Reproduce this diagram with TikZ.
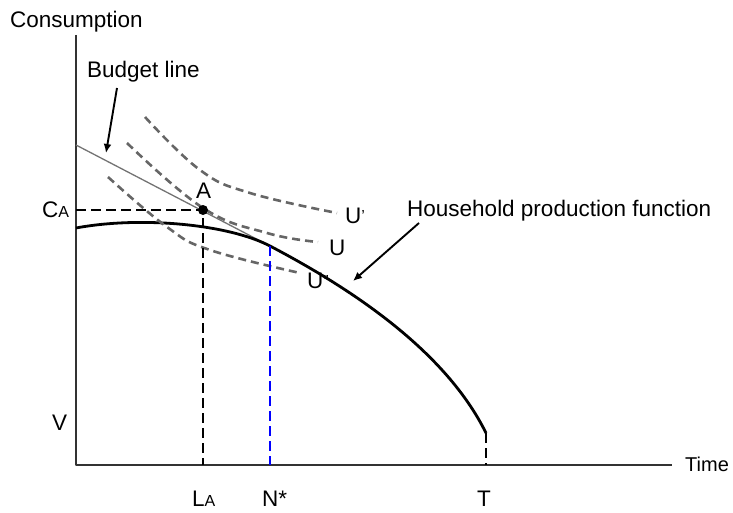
\documentclass[tikz,border=0pt]{standalone}
\usepackage{fontspec}
\setmainfont{Liberation Sans}
\usetikzlibrary{arrows.meta}
\newcommand{\nhochu}[1]{{\fontsize{16}{17}\selectfont #1}}
\begin{document}
\begin{tikzpicture}[
			% styles
			truc/.style={line width=1.3pt, draw=black!80}, % axes
			chiaso/.style={line width=1.1pt, dash pattern=on 10pt off 5pt}, % guide lines
			bangquan/.style={line width=2.6pt, draw=black!60, dash pattern=on 8pt off 5pt}, % utility curves
			diem/.style={circle, fill=black, inner sep=0pt, minimum size=10pt}, % point A
			nhan/.style={font=\fontsize{22.5}{26}\selectfont, inner sep=0pt, anchor=base west}, % labels
			muiten/.style={-{Latex[length=9pt,width=8pt]}, line width=1.9pt}, % pointers
			x=1pt, y=-1pt, line join=round]
			\useasboundingbox (0,0) rectangle (733,513);

			% points of the figure
			\coordinate (O) at (76,465);     % origin
			\coordinate (Ytop) at (76,35);   % top of consumption axis
			\coordinate (Xend) at (672,465); % end of time axis
			\coordinate (B0) at (76,145);    % budget line start
			\coordinate (N) at (270,246);    % tangency point
			\coordinate (P0) at (76,228);    % production start
			\coordinate (PT) at (486,433);   % production end
			\coordinate (CAx) at (76,210);
			\coordinate (LAx) at (203,465);
			\coordinate (Nx) at (270,465);
			\coordinate (Tx) at (486,465);

			% axes
			\draw[truc] (Ytop) -- (O) -- (Xend);

			% budget line
			\draw[line width=1.3pt, black!55] (B0) -- (N);

			% household production function
			\draw[line width=2.8pt] (P0) .. controls (140,216) and (228,224) .. (N)
				.. controls (350,288) and (445,350) .. (PT);

			% utility curves
			\draw[bangquan] plot[smooth, tension=0.7] coordinates {(145,117) (200,170) (250,193) (337,213)};
			\draw[bangquan] plot[smooth, tension=0.7] coordinates {(127,143) (203,208) (267,233) (318,242)};
			\draw[bangquan] plot[smooth, tension=0.7] coordinates {(108,177) (167,227) (210,250) (300,273)};

			% point A and guide lines
			\node[diem] (A) at (203,210) {};
			\draw[chiaso] (CAx) -- (A.center) -- (LAx);
			\draw[chiaso, blue] (N) -- (Nx);
			\draw[chiaso] (PT) -- (Tx);

			% pointers
			\coordinate (bl1) at (117,88);
			\coordinate (bl2) at (106,153);
			\coordinate (hp1) at (419,223);
			\coordinate (hp2) at (353,281);
			\draw[muiten] (bl1) -- (bl2);
			\draw[muiten] (hp1) -- (hp2);

			% texts
			\node[nhan] (cons) at (10,28) {Consumption};
			\node[nhan] (time) at (685,471) {\fontsize{20}{23}\selectfont Time};
			\node[nhan] (budget) at (87,78) {Budget line};
			\node[nhan] (house) at (407,216) {Household production function};
			\node[nhan] (lA) at (196,198) {A};
			\node[nhan] (ca) at (42,218) {C\nhochu{A}};
			\node[nhan] (v) at (52,430) {V};
			\node[nhan] (la) at (192,506) {L\nhochu{A}};
			\node[nhan] (ns) at (262,506) {N*};
			\node[nhan] (t) at (477,506) {T};
			\node[nhan] (u1) at (345,223) {U\raisebox{2pt}{\nhochu{’}}};
			\node[nhan] (u0) at (329,255) {U};
			\node[nhan] (u2) at (307,288) {U\raisebox{2pt}{\nhochu{”}}};

		\end{tikzpicture}
\end{document}
